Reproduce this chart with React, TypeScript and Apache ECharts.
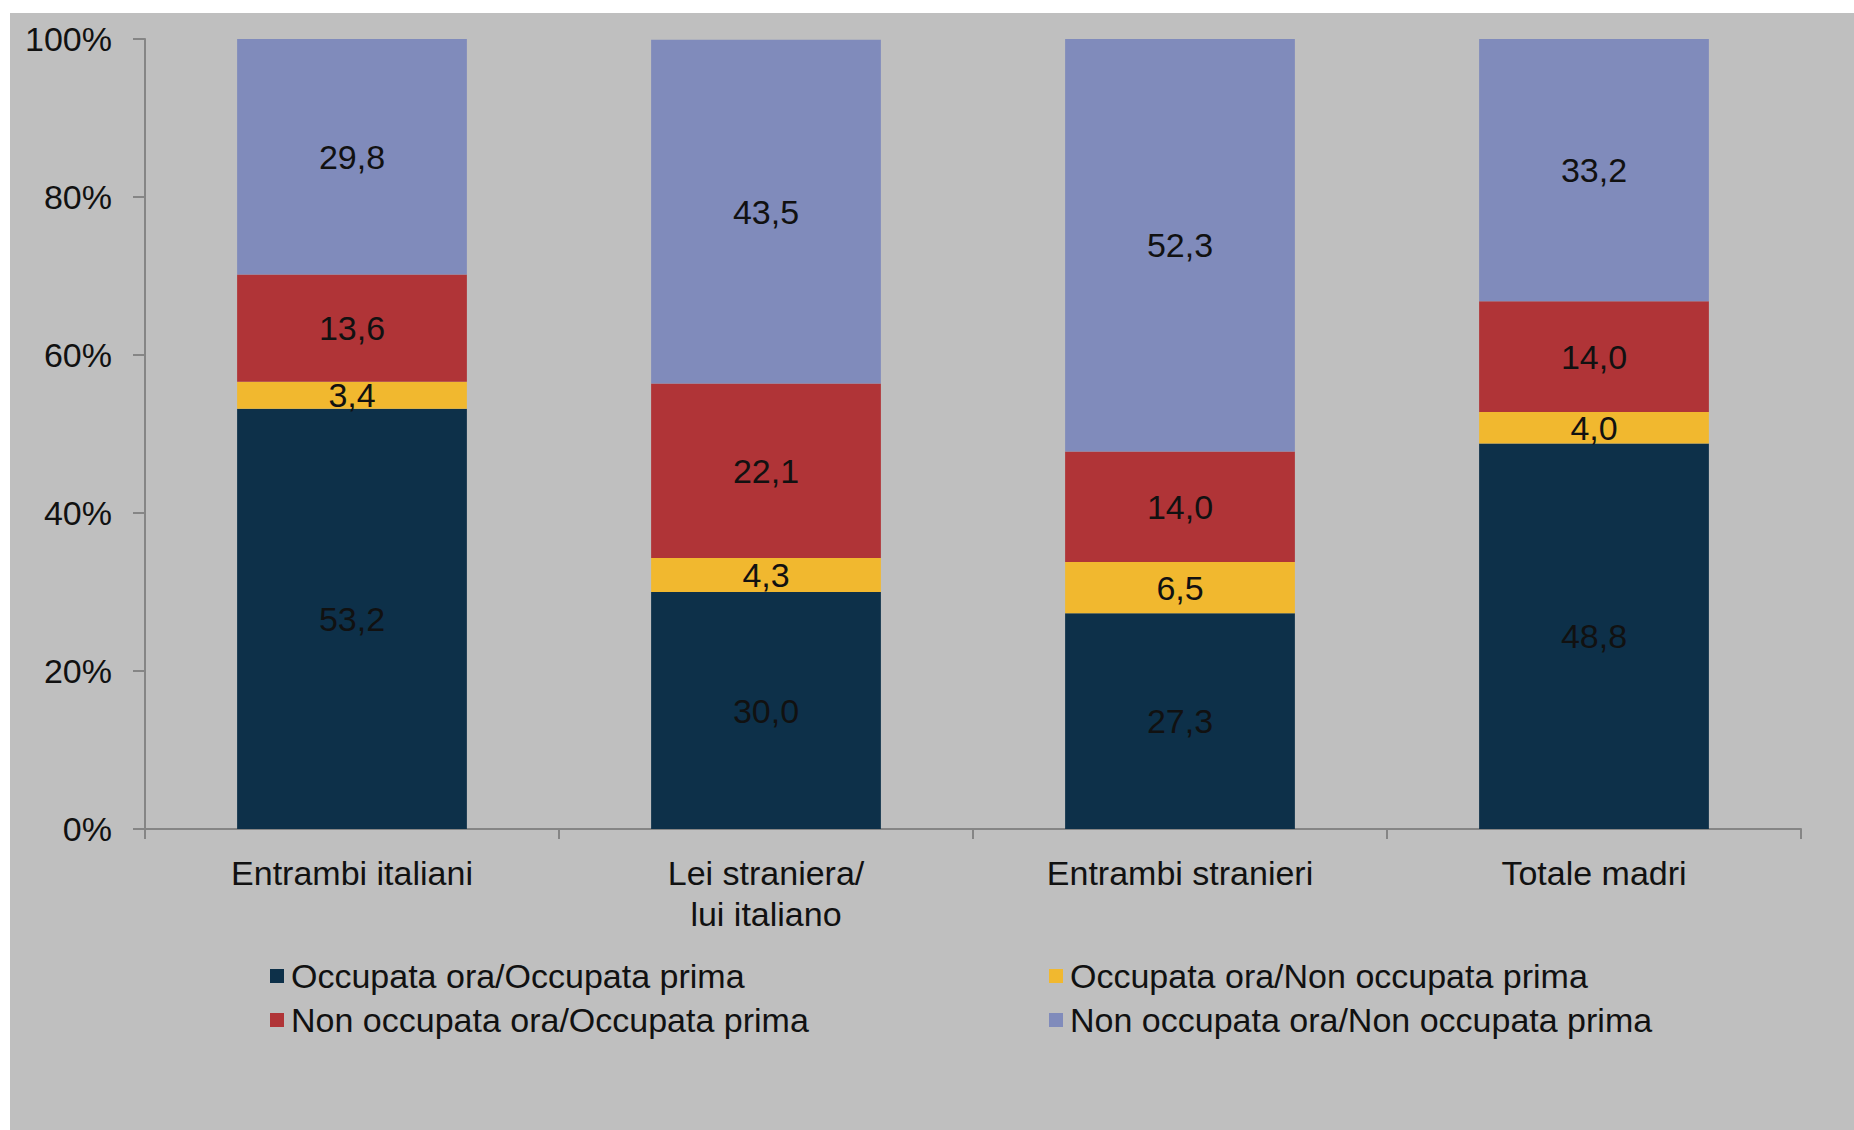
import React, { useEffect, useRef } from "react";
import * as echarts from "echarts";

const categories = ["Entrambi italiani", "Lei straniera/\nlui italiano", "Entrambi stranieri", "Totale madri"];
const seriesNames = [
  "Occupata ora/Occupata prima",
  "Occupata ora/Non occupata prima",
  "Non occupata ora/Occupata prima",
  "Non occupata ora/Non occupata prima",
];
const occOccPrima = [53.2, 30.0, 27.3, 48.8];
const occNonPrima = [3.4, 4.3, 6.5, 4.0];
const nonOccPrima = [13.6, 22.1, 14.0, 14.0];
const nonNonPrima = [29.8, 43.5, 52.3, 33.2];
const seriesValues = [occOccPrima, occNonPrima, nonOccPrima, nonNonPrima];
const colors = ["#0d3049", "#f1b82f", "#b03437", "#808bbb"];

const FONT = "'Liberation Sans', Arial, Helvetica, sans-serif";
const TEXT = "#111111";

export default function App() {
  const ref = useRef<HTMLDivElement>(null);
  useEffect(() => {
    document.body.style.margin = "0";
    const chart = echarts.init(ref.current!, null, { renderer: "svg" });
    chart.setOption({
      animation: false,
      backgroundColor: "#ffffff",
      textStyle: { fontFamily: FONT },
      graphic: [
        {
          type: "rect",
          shape: { x: 10, y: 13, width: 1844, height: 1117 },
          style: { fill: "#bfbfbf" },
          z: -10,
          silent: true,
        },
      ],
      grid: { left: 145, right: 53, top: 39, bottom: 301, containLabel: false },
      xAxis: {
        type: "category",
        data: categories,
        axisLine: { show: true, lineStyle: { color: "#858585", width: 2 } },
        axisTick: { show: true, length: 10, lineStyle: { color: "#858585", width: 2 } },
        axisLabel: {
          fontSize: 34,
          fontFamily: FONT,
          color: TEXT,
          margin: 23,
          lineHeight: 41,
          interval: 0,
        },
      },
      yAxis: {
        type: "value",
        min: 0,
        max: 100,
        interval: 20,
        splitLine: { show: false },
        axisLine: { show: true, lineStyle: { color: "#858585", width: 2 } },
        axisTick: { show: true, length: 12, lineStyle: { color: "#858585", width: 2 } },
        axisLabel: {
          formatter: "{value}%",
          fontSize: 34,
          fontFamily: FONT,
          color: TEXT,
          margin: 33,
        },
      },
      legend: [
        {
          orient: "vertical",
          left: 265,
          top: 951,
          itemWidth: 14,
          itemHeight: 14,
          itemGap: 4,
          icon: "rect",
          data: [seriesNames[0], seriesNames[2]],
          textStyle: { fontSize: 34, fontFamily: FONT, color: TEXT, lineHeight: 40, padding: [0, 0, 0, 2] },
        },
        {
          orient: "vertical",
          left: 1044,
          top: 951,
          itemWidth: 14,
          itemHeight: 14,
          itemGap: 4,
          icon: "rect",
          data: [seriesNames[1], seriesNames[3]],
          textStyle: { fontSize: 34, fontFamily: FONT, color: TEXT, lineHeight: 40, padding: [0, 0, 0, 2] },
        },
      ],
      series: seriesNames.map((name, i) => ({
        name,
        type: "bar",
        stack: "total",
        data: seriesValues[i],
        barWidth: "55.5%",
        itemStyle: { color: colors[i] },
        label: {
          show: true,
          position: "inside",
          fontSize: 34,
          fontFamily: FONT,
          color: TEXT,
          formatter: (p: any) => Number(p.value).toFixed(1).replace(".", ","),
        },
      })),
    });
    return () => chart.dispose();
  }, []);
  return <div ref={ref} style={{ width: 1854, height: 1130 }} />;
}
